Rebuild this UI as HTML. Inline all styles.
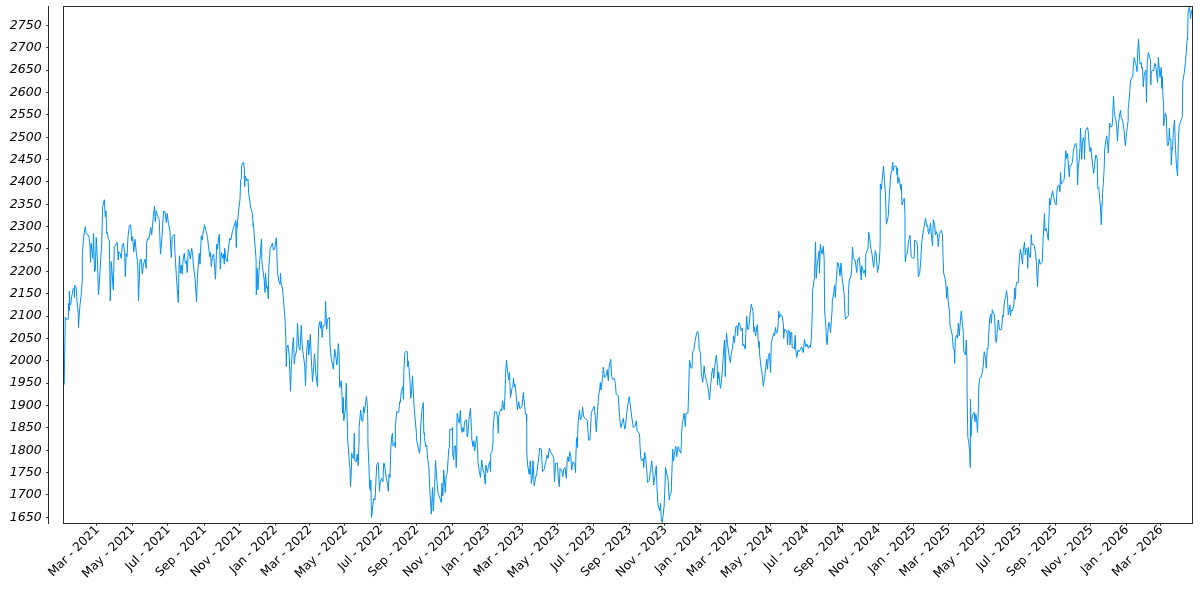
<!DOCTYPE html>
<html lang="en"><head><meta charset="utf-8"><title>Chart</title>
<style>
html,body{margin:0;padding:0;background:#fff;}
body{width:1200px;height:600px;overflow:hidden;}
svg{display:block;}
.yl{font:italic 12.5px "DejaVu Sans","Liberation Sans",sans-serif;fill:#000;text-anchor:end;}
.xl{font:12.2px "DejaVu Sans","Liberation Sans",sans-serif;fill:#000;text-anchor:end;}
</style></head>
<body>
<svg width="1200" height="600" viewBox="0 0 1200 600">
<rect x="0" y="0" width="1200" height="600" fill="#ffffff"/>
<path d="M64.2,384.5 L65.3,317 L66.2,319.2 L68.3,319.2 L68.6,303.3 L69.2,310.8 L69.4,291.2 L69.8,305 L70.7,305 L71.7,296.7 L73.3,288.3 L74.2,289.2 L74.4,297.5 L74.7,285.4 L76.2,287.5 L76.7,296.7 L77.5,307.5 L78.2,312.5 L78.5,327.5 L79.2,315 L80,305 L81.2,295 L82.3,280 L82.3,255.6 L82.5,251.7 L83.8,235.8 L85.3,226.7 L86.2,233.3 L87.5,234.2 L89.2,237.5 L90,245 L90.5,262.5 L91,243.3 L92,250 L92.8,258.3 L93.5,233.3 L94.5,271.7 L95.3,270.8 L96.2,237.5 L97.3,256.7 L98.5,294.7 L100,271.7 L101.7,243.3 L102.7,206.7 L104.3,199.7 L105.3,216.7 L106,210.8 L106.7,233.3 L107.3,232.5 L108.3,239.2 L109.3,240 L110.3,300.8 L111.3,261.7 L113.3,290 L114.3,246.7 L115.8,245 L117.2,242.5 L118.3,260 L118.7,251.7 L120,253.3 L121.3,258.3 L122.3,245 L123.5,243.3 L124.7,252.5 L125.3,276.7 L126.2,253.3 L127,256.7 L128,236.7 L129.3,225.8 L130.7,224.7 L131.7,240.8 L132.7,236.7 L133.8,251.7 L135,239.2 L136.3,252.5 L137.5,261.7 L137.8,266.7 L138.5,300.8 L140,260 L141.3,259.2 L142.3,274.2 L143.3,265 L145,259.2 L146.2,268.3 L146.5,243.3 L147.8,238.3 L148.8,239.2 L150.8,227.5 L151.7,235 L153.3,216.7 L154.5,206.3 L155.3,221.7 L156.2,210.8 L157.5,215.8 L159.2,219.2 L160.5,254.2 L162,236.7 L163.5,211.3 L165,211.7 L166.3,222.5 L167.2,213.3 L168.3,222.5 L170,231.7 L171.3,257.5 L172.2,236.7 L174.2,234.5 L175,253.3 L176.7,281.7 L178.3,302.5 L179,266.7 L179.5,255.8 L180.3,273.3 L181.2,265 L182.2,274.2 L183,260.8 L184.3,253.3 L185.3,263.3 L186.3,260.8 L187.3,272.5 L188.3,249.2 L189.3,252.5 L190.3,259.2 L191.7,248.3 L192.7,255 L193.3,265 L195,278.3 L196.5,301.7 L197.5,275 L199.2,253.3 L200,264.2 L201.3,235.8 L202,240 L204.5,224.7 L205.8,230 L207.5,237.5 L209.7,256.7 L210.5,252.5 L211.3,266.7 L212.7,255 L213.7,254.2 L215.5,279.2 L216.7,244.2 L217.5,249.2 L218.3,240 L219.3,234.2 L220.3,269.2 L221.3,252.5 L222.5,258.3 L223.3,254.2 L224.3,264.2 L224.7,248.3 L225.8,259.2 L227.2,261.7 L228.3,250 L229.7,238.3 L230.8,240 L232.5,230.8 L235.8,220.3 L235.8,231.5 L236.3,247.5 L237,224.2 L237.2,222.5 L237.2,227.3 L238.3,213.3 L240,199.2 L240.7,180 L241.3,179.2 L241.7,165 L243.5,162 L244.3,168.3 L244.7,186.7 L245.3,176.3 L247,180.8 L248,179.2 L248.7,193.3 L250.8,208.3 L252.2,212.5 L253.3,226.9 L253.4,223.4 L256.1,260.2 L256.2,285.7 L256.3,295 L257.2,268.3 L258,290 L259.7,260 L260.4,254.1 L260.4,250.8 L261.5,239.2 L261.7,245.5 L261.8,259.2 L262.5,266.7 L264.2,280 L265,292.5 L265.5,273.3 L266.7,288.3 L267.5,286.7 L268.3,298.7 L268.8,266.7 L269.9,254.5 L269.9,250.5 L270.3,248.3 L272.5,243.3 L273.3,250 L274.7,249.2 L276.3,237.8 L276.9,249.8 L276.9,256.1 L277.5,271.7 L278.7,280.8 L280,284.2 L280.5,273.3 L281.2,284.2 L282.5,288.3 L284.2,308.3 L285.2,322.4 L285.3,327.5 L285.8,336.7 L286.3,366.6 L286.8,348.3 L288,345 L289.2,355 L290.5,391.3 L291.3,366.7 L292.5,346.7 L293.5,337.5 L294.3,364.2 L295,356.7 L296.7,350 L297.5,323.3 L298.7,346.7 L300,350 L301.3,325.3 L302.2,345 L303.3,355 L304.7,365 L305.5,385.5 L306.7,350 L308,340 L308.8,355 L310.3,334.5 L311.3,358.3 L312.5,381.7 L313.7,366.7 L314.5,353.7 L315.8,373.3 L317.5,386.7 L318,350 L318.7,326.7 L319.7,321.7 L320.5,328.3 L321.3,321.3 L322.2,337.5 L323,325.8 L325,325 L325.5,301.3 L326.7,329.2 L327.5,319.2 L329.5,317.5 L330,345 L331.3,358.3 L333.3,369.2 L334.7,349.2 L337,365 L338.3,343.7 L339.2,355 L339.4,373.2 L339.7,387.5 L341.2,380.8 L342,395 L342.5,413.3 L343.3,397.5 L343.8,420.8 L345.3,410 L346.3,383.3 L347.2,420 L347.6,430.4 L347.6,439.8 L348,443.3 L349.5,465 L350,467.5 L350.5,486.7 L351.3,471.7 L351.8,453.3 L352.5,457.5 L353.7,458.3 L354.2,435 L354.4,433.3 L354.8,460.8 L356.3,461.7 L357.2,454.2 L358.3,465.5 L358.8,446.7 L359.1,442.9 L359.1,427.8 L360.7,410 L361.7,420 L362.7,421.7 L363.7,406.7 L364.3,412.5 L366.5,396.3 L367.5,408.3 L367.9,427 L367.9,442 L368.8,463.3 L369.7,488.3 L370.5,490.8 L370.8,480 L371.5,517.5 L373.7,498.3 L375,500 L376.7,465 L378.3,462.5 L379.5,491.3 L380,483.3 L381.7,478.3 L383,481.7 L383.6,463.3 L384.3,463.3 L386.3,478.3 L387.5,483.3 L388.3,491.3 L389,474.2 L390,477.5 L390.8,448.3 L391.7,436.7 L392.1,434.7 L392.2,435 L392.5,433.3 L393,445.8 L394.7,442.5 L395.3,447.5 L395.4,425.9 L396.7,411.7 L398.7,412.5 L399.7,401.7 L400.3,402.5 L401.3,391.7 L402.8,386.7 L403.5,399.2 L403.8,373.4 L404.8,352.5 L406.3,351.3 L407.3,351.7 L407.7,366.7 L408.3,360.8 L409.7,375.8 L410.8,398.3 L411.7,390 L412.5,375.8 L414.2,408.3 L416.4,433.1 L416.4,437.4 L416.7,440 L418.3,448.3 L419.5,453.3 L420.6,441 L420.6,428.3 L421.7,411.7 L423.3,402.5 L423.8,433.3 L424.4,432.7 L424.4,437.6 L425.8,446.7 L426.7,445 L427.5,457.5 L428.8,466.7 L430,493.3 L431.3,514.2 L432.5,487.5 L433.3,510.8 L434.7,485 L435.5,460.3 L436.7,478.3 L438,493.3 L440,498.3 L441.3,502.5 L442,483.3 L442.8,495.8 L443.7,470 L445.3,492.5 L446.2,475 L447.2,473.7 L448.8,448.3 L449.5,447.5 L449.7,440.5 L449.8,429.5 L451.7,429.5 L452.5,427.5 L452.8,455 L453.7,459.7 L454.2,446.7 L455.5,445.8 L456.2,467.5 L456.9,449.1 L456.9,421.9 L457.2,413.3 L458.3,420 L459.2,423.3 L460.3,410.3 L461.2,427.5 L462.2,432.5 L462.8,427.5 L463.8,431.7 L464.5,421.7 L466.3,419.7 L467.2,435.8 L467.2,434.3 L467.5,436.7 L467.7,434.2 L468,433.3 L469.2,416.7 L470.5,408.3 L471.3,426.7 L471.7,430.9 L471.8,438.9 L473,446.7 L473.8,440.8 L474.7,450.8 L476.7,435.8 L477.5,446.7 L478,462.5 L479.2,470.8 L480.5,477.5 L481.7,460 L483,470 L484.2,473.3 L485.3,484.2 L485.8,465 L487.5,472.5 L488.3,466.7 L489.7,461.7 L490.5,471.7 L490.8,453.4 L492,451.7 L493.1,441.2 L493.1,428.5 L494.5,411.7 L496.7,412 L497.5,419.2 L498.3,433.3 L498.7,416.7 L499.7,411.7 L500.8,409.2 L501.7,410.8 L502.5,400.8 L504.2,410 L505,395 L505.5,373.3 L506.5,360.3 L507.5,370.8 L508.7,380 L509.5,372.5 L510.5,397.5 L512,388.3 L512.8,387.5 L513.5,378.3 L514.2,386.7 L515,384.2 L516.3,396.7 L517.5,410 L518.7,401.7 L519.7,408.3 L520,408.1 L520,408.3 L522,406.7 L523,396 L523,397 L523.3,392.5 L524.7,406.7 L525.5,414.2 L526.5,414.2 L526.6,421.3 L526.7,414.2 L526.8,452.3 L527.5,464.2 L529.2,474.2 L529.4,469.3 L530,474.2 L530,460.8 L530.5,461.7 L531.3,483.3 L532.2,478.3 L533,460.8 L534.2,485.8 L535.3,479.2 L536.7,473.3 L538.3,461.7 L539.7,448 L541.3,449.2 L542.5,471.7 L544.2,469.2 L545.8,461.7 L547,455 L548,458.3 L549.3,448.3 L550.8,452.5 L552.5,455 L553.8,458.3 L554.5,481.7 L555.5,463.3 L557.5,463.3 L558.3,478.3 L559.3,486.7 L560,468.3 L561.7,470 L562.8,476.7 L563.7,469.2 L565,467.5 L566.3,478.3 L567.2,460 L568,456.7 L568.8,461.7 L569.7,451.7 L570.8,456.7 L571.7,470 L573,461.7 L574.7,464.2 L575.5,472.5 L576,451.7 L576.4,442.7 L576.5,437.8 L576.8,441.3 L576.9,439 L577.5,447.5 L577.6,434.6 L578.3,420 L579.5,410.3 L580.3,420 L581.7,417.5 L582.5,406.7 L583.7,416.7 L585.3,418.3 L587.2,420.8 L588.6,440.2 L589.5,439.8 L589.6,440.2 L590,440 L591.3,413.3 L592.7,409.2 L594.2,406.3 L595.5,419.2 L596.3,431.7 L597.5,411.7 L598.7,395 L599.7,390 L600.3,382.5 L601,390 L602.5,378.3 L603.3,367.2 L604.5,377.5 L606.3,375 L607.2,369.7 L608.3,380.8 L609.2,366.7 L610.7,359.2 L611.7,376.7 L612.8,379.2 L614.2,378.3 L615.3,383.3 L616.2,394.2 L618.3,395.8 L619.5,416.7 L620.8,427.5 L623.3,418.3 L624.7,429.2 L625.5,425.8 L626.7,413.3 L628.3,401.7 L629.3,396.7 L631.7,416.7 L633.3,427.5 L635.3,425.8 L636.3,420.8 L637.2,430.8 L639.2,433.3 L639.8,438.3 L639.8,442.1 L640.8,458.3 L641.7,460.8 L643.3,458.3 L643.7,467.5 L644.7,452.5 L645.8,459.2 L646.7,469.2 L647.5,482.5 L649.2,480.8 L651.7,460.8 L652.5,468.3 L653.7,485 L656.3,465.8 L657,488.3 L658,505 L659.7,510.8 L660.5,503.3 L661.3,520 L662.2,522.5 L663,516.7 L664.2,505 L665,485 L665.5,467.5 L666.7,473.3 L668,479.2 L669.3,500 L670,494.2 L671.2,492.5 L672.7,449.2 L673.5,460.8 L674.7,451.7 L675.8,446.3 L676.7,456.7 L678,446.7 L680.8,453.3 L681.4,444.8 L681.4,435.8 L682.5,421.7 L684.2,413.3 L685.3,426.7 L686,413.3 L688,413 L689.5,360 L690,363.6 L690,363.3 L690.8,367.5 L692,368.3 L692.5,351.7 L693.7,350.8 L695,341.7 L696.7,332.5 L697.8,331.3 L698.7,335.8 L699.2,349.2 L700.5,353.3 L701.3,373.3 L701.6,375.2 L701.6,374.8 L702.7,382.5 L704.2,365.8 L704.7,373.3 L705.2,374.1 L705.2,376 L706.7,381.7 L708.3,389.2 L709.5,399.7 L710.8,383.3 L711.6,376.4 L711.7,373.3 L712.8,368.3 L713.7,378.3 L714.7,366.7 L716.3,355.3 L717.2,363.3 L717.4,369.1 L717.5,385 L718.2,372.4 L718.2,378.3 L718.7,372.5 L720,385 L720,384.7 L720.5,388.3 L721.7,378.3 L722.8,363.3 L723.7,350 L724.5,340 L725.3,376.7 L725.8,350 L726.5,333.3 L727.5,343.3 L728.7,353.3 L730.3,362.5 L731.3,353.3 L732.5,348.3 L733.7,335.8 L734.5,342.5 L735.8,326.7 L737.2,325.8 L737.5,335.8 L738.7,322.5 L740,325 L741.3,330.8 L742.3,328.3 L742.8,345.8 L743.8,344.2 L745.3,349.2 L745.8,333.3 L746.7,316.3 L747.5,329.2 L748.7,329.2 L749.7,316.7 L751.3,304.2 L753,311.7 L753.8,331.7 L754.5,326.7 L755.5,335.8 L757.3,324.7 L758,336.7 L758.8,347.5 L759.2,341.7 L759.7,355 L760.8,365 L762,373.3 L763.3,386.3 L764.7,376.7 L766.7,359.2 L767.5,369.2 L768.3,356.7 L769.5,353.3 L770.5,372.5 L771.3,343.3 L772.5,337.5 L773.7,333.3 L774.5,335.8 L775.5,327.5 L776.3,333.3 L777.5,331.7 L778.3,321.7 L778.7,311.3 L779.5,317.5 L780.8,314.2 L782,315.8 L783.3,323.3 L783.7,338.3 L784.5,329.2 L785.8,330 L787.2,333.3 L787.5,344.7 L788.3,329.7 L789.7,331.7 L790,345 L790.8,332.5 L791.7,332.5 L792.2,347.5 L793.3,347.5 L794.3,349.2 L795.2,335.3 L795.7,348.3 L796.7,357.5 L798,350 L799.2,351.7 L801.7,346.7 L803.3,352.5 L804.5,339.5 L805.8,346.7 L807,344.2 L808.3,348.3 L809.7,345 L810.3,347.5 L811.2,340.8 L812,320 L812.3,311 L812.5,291.7 L814.5,276.7 L815.5,242 L816.2,278.3 L817.2,265 L819.2,250.9 L819.5,273.3 L820.3,244.2 L821.3,250.8 L822.2,254.2 L823.3,246.3 L824.2,260 L824.6,307.9 L825,316.7 L825.8,325 L826.5,340 L827.2,344.7 L827.8,333.3 L828.8,322.5 L829.7,325 L830.5,332.5 L832.2,308.8 L832.3,301.2 L833.7,293.3 L834.5,285.3 L835.3,297.5 L836.3,280 L837.5,262.5 L838.3,263.3 L839.5,270 L840,275.8 L841,263 L842,276.7 L844.2,295 L844.5,301.9 L844.7,310 L845.5,319.2 L848.3,315.8 L848.4,295.3 L849.2,280 L850.9,276.5 L851.7,268.3 L852.5,247.2 L853.3,258.3 L855,260 L855.8,265 L856.7,272.5 L857.5,260 L859.2,257.5 L861.3,280 L861.7,265.8 L863.8,273.3 L865,270 L865.5,276.7 L865.8,254.2 L868,248.3 L868.7,232.2 L870,240 L870.8,248.3 L872,254.2 L873,263.3 L873.7,267.5 L874.5,258.3 L875.3,250.8 L876.3,255 L877.5,272.5 L879.2,263.3 L880,248.3 L880.2,239.7 L880.3,184.2 L881.3,189.2 L883.5,166.3 L884.5,181.7 L885.5,194.2 L886.3,224.2 L887.5,220 L888.3,215.8 L889.5,191.7 L890.8,175 L891.7,170.8 L892.7,162.2 L893.3,170.8 L894.3,166.3 L896.3,166.3 L897,175 L897.5,168.3 L897.8,183.3 L898.7,177.5 L899.7,181.7 L900.7,189.2 L901.3,184.2 L902,205 L903,201.7 L904.3,198.3 L905,215.3 L905,245.8 L905.3,261.7 L906.2,254.2 L907.5,253.3 L908.3,242.5 L910,235.3 L911.2,256.7 L912.5,258.3 L914.2,257.5 L914.7,240 L916.7,241.7 L917.5,246.7 L918.3,276.7 L919.7,273.3 L920.8,260 L921.7,242.5 L923.5,230 L923.5,230.2 L924.2,226.7 L925.5,218.3 L926.7,225.8 L927.5,225 L928,228.6 L928,231.2 L928.8,234.2 L929.4,229.4 L929.4,230.9 L929.7,230 L930.5,223.3 L931,228.3 L931,231.2 L932.5,245.8 L933.3,219.7 L934.7,225 L935.5,235 L936.3,231.7 L937.5,235 L938.3,246.7 L939.2,234.2 L940.3,232.5 L941.4,230.4 L942.5,235 L943,256.7 L943.7,273.3 L945,278.3 L945.8,283.3 L946.7,298.3 L946.9,296.9 L947.2,286.7 L947.9,293.5 L947.9,296.5 L948.3,301.7 L949.7,315 L950,325.8 L950.8,328.3 L952.2,335 L953.3,348.3 L954.2,350 L954.7,363.3 L955.3,338.3 L956.7,335 L957.5,338.3 L958.3,323.3 L959.3,335.8 L960.3,321.7 L961.3,311.2 L962.5,325 L963.3,331.7 L963.8,351.7 L965.5,355 L966.3,340 L967,362.1 L967,386.7 L967.8,436.6 L968.8,443.3 L969.7,451.7 L970.3,467.5 L970.5,399.2 L971,436.7 L971.7,420 L973,414.2 L974.2,412.5 L975,421.7 L975.8,414.2 L976.7,420 L977.5,432.5 L978.3,410 L978.8,386.7 L979.7,378.3 L980.8,377.5 L981.6,375.9 L981.7,374.1 L982.5,371.7 L983.3,365 L984.2,351.7 L985.5,358.3 L986.3,368.3 L987.2,348.3 L988,349.2 L988.7,335 L989.7,318.3 L990.8,314.2 L991.3,323.3 L992.3,309.7 L993.3,313.3 L994.5,315 L995.5,338.3 L996.3,342.5 L997.5,328.3 L998.3,320 L999.7,330 L1001.7,329.2 L1002.5,315 L1003.3,316.7 L1004.5,300.8 L1005.5,298.3 L1006.5,290.5 L1007.5,298.3 L1008.3,315 L1010,305 L1010.5,315.8 L1011.3,310 L1012.5,310.8 L1013.8,305 L1014.7,288.3 L1014.9,288.2 L1014.9,292.1 L1015.3,299.2 L1015.8,292.6 L1015.8,287.5 L1016.7,282.5 L1018.3,282.5 L1018.8,266.7 L1019.7,255 L1020.5,249.2 L1022.5,264.2 L1023.3,250 L1024.5,242.5 L1025.3,255 L1026.3,248.3 L1027.2,250 L1027.7,268.3 L1028.3,247.5 L1029.5,256.7 L1030.5,257.5 L1031.3,234.5 L1032,245 L1033,244.2 L1034.2,245.8 L1035.5,251.7 L1036.3,261.7 L1037.5,286.7 L1038.3,266.7 L1039.2,259.2 L1040,264.2 L1041.3,263.3 L1042.2,262.5 L1043,241.7 L1044.5,213.3 L1045,230.8 L1046.2,228.3 L1047.2,233.3 L1048.3,240.3 L1048.8,221.7 L1049.3,210.3 L1049.5,198.3 L1050.3,205 L1051.3,197.5 L1052.5,190.8 L1055,203.3 L1056.2,205 L1057,190 L1057.8,185.8 L1059.2,185 L1060,191.7 L1060.5,172.5 L1061.2,184.2 L1062.5,181.7 L1064.2,179.2 L1065,165 L1065.7,150.8 L1066.7,158.3 L1067.5,153.3 L1069.3,176.7 L1070,165.8 L1071.3,165 L1072.5,161.7 L1073.3,151.7 L1074.7,145 L1075.8,143.3 L1076.7,147.5 L1077.2,163.4 L1077.5,185 L1078.3,166.7 L1079.2,160 L1080,148.3 L1080.5,128 L1081.7,159.2 L1082.5,143.3 L1083.3,137.5 L1084.2,141.7 L1084.5,159.2 L1085.3,131.7 L1086.3,129.2 L1087.5,127.5 L1088.3,131.7 L1089.2,145.8 L1090,151.7 L1090.8,147.5 L1092.8,166.7 L1093.7,173.3 L1095.8,155 L1097.2,158.3 L1097.8,188.3 L1098.8,187.5 L1099.7,198.3 L1100.3,205 L1101.3,224.7 L1102,205 L1102.1,204.4 L1102.2,205 L1102.5,193.3 L1103.3,183.3 L1104.2,168.3 L1104.7,150 L1105.8,140.8 L1106.7,135.8 L1107.8,145.8 L1108.3,153 L1109.7,123.3 L1110.5,126.7 L1112,126.7 L1112.8,116.7 L1112.8,112.9 L1113.5,96.2 L1114.3,111.7 L1114.7,113.9 L1114.7,116.1 L1115,116.7 L1115.8,120 L1116.7,126.7 L1117.5,140.8 L1118.3,125.8 L1119.5,114.5 L1119.6,115.3 L1120.5,110 L1120.9,113.2 L1121,116.9 L1122.5,120 L1124.2,131.7 L1125.3,145.8 L1126.3,135 L1128.2,120.3 L1128.2,109.5 L1129.7,93.3 L1130.5,80.8 L1131.7,77.5 L1132.8,76.7 L1133.3,65 L1134.3,57.5 L1135.3,63.3 L1136.3,65.8 L1137,71.7 L1137.7,51.7 L1138.5,39.2 L1140,64.2 L1141.2,62.5 L1141.7,68.3 L1142.5,67.5 L1143.3,86.7 L1144.2,75 L1145.8,70 L1146.5,102.5 L1147.2,63.3 L1148.3,52.5 L1149.5,56.7 L1150.5,60.8 L1150.8,85 L1151.3,71.7 L1152.8,70 L1153.7,70.8 L1154.7,63.3 L1155.5,64.2 L1156.3,70 L1157.5,82.5 L1158.3,57.5 L1160,77.5 L1161.2,67.5 L1161.7,88.3 L1162.3,76.7 L1163,96.7 L1163.7,107.1 L1163.7,123.4 L1163.8,125.8 L1164.7,117.5 L1165.3,113.3 L1165.6,115.5 L1165.7,114.4 L1166.3,116.7 L1167.2,143.3 L1168,145.8 L1168.8,141.7 L1169.3,128.3 L1170,140 L1170.8,139.2 L1171.3,165 L1172,147.5 L1172.5,150 L1173.3,131.7 L1174.5,120 L1175.5,148.3 L1176.3,163.3 L1177.5,175.8 L1178.3,143.3 L1179.2,125.8 L1181.7,118.3 L1182.3,117.4 L1182.8,81.7 L1184.2,73.3 L1185.3,63.3 L1186.3,51.7 L1187,40.8 L1187.5,38.1 L1187.6,40 L1188,12 L1189.5,6.5 L1190.5,18.5 L1191.5,10.5 L1191.8,13.5" fill="none" stroke="#0590f0" stroke-width="1" stroke-linejoin="round" stroke-linecap="butt"/>
<rect x="63.5" y="6.5" width="1129.0" height="517.0" fill="none" stroke="#2a2a2a" stroke-width="1"/>
<line x1="48.5" y1="6.0" x2="48.5" y2="524.0" stroke="#2a2a2a" stroke-width="1"/>
<g stroke="#2a2a2a" stroke-width="1">
<line x1="46.3" y1="517.5" x2="48.5" y2="517.5"/>
<line x1="46.3" y1="494.5" x2="48.5" y2="494.5"/>
<line x1="46.3" y1="472.5" x2="48.5" y2="472.5"/>
<line x1="46.3" y1="450.5" x2="48.5" y2="450.5"/>
<line x1="46.3" y1="427.5" x2="48.5" y2="427.5"/>
<line x1="46.3" y1="405.5" x2="48.5" y2="405.5"/>
<line x1="46.3" y1="383.5" x2="48.5" y2="383.5"/>
<line x1="46.3" y1="360.5" x2="48.5" y2="360.5"/>
<line x1="46.3" y1="338.5" x2="48.5" y2="338.5"/>
<line x1="46.3" y1="316.5" x2="48.5" y2="316.5"/>
<line x1="46.3" y1="293.5" x2="48.5" y2="293.5"/>
<line x1="46.3" y1="271.5" x2="48.5" y2="271.5"/>
<line x1="46.3" y1="248.5" x2="48.5" y2="248.5"/>
<line x1="46.3" y1="226.5" x2="48.5" y2="226.5"/>
<line x1="46.3" y1="204.5" x2="48.5" y2="204.5"/>
<line x1="46.3" y1="181.5" x2="48.5" y2="181.5"/>
<line x1="46.3" y1="159.5" x2="48.5" y2="159.5"/>
<line x1="46.3" y1="137.5" x2="48.5" y2="137.5"/>
<line x1="46.3" y1="114.5" x2="48.5" y2="114.5"/>
<line x1="46.3" y1="92.5" x2="48.5" y2="92.5"/>
<line x1="46.3" y1="70.5" x2="48.5" y2="70.5"/>
<line x1="46.3" y1="47.5" x2="48.5" y2="47.5"/>
<line x1="46.3" y1="25.5" x2="48.5" y2="25.5"/>
<line x1="96.5" y1="523.5" x2="96.5" y2="525.7"/>
<line x1="132.5" y1="523.5" x2="132.5" y2="525.7"/>
<line x1="167.5" y1="523.5" x2="167.5" y2="525.7"/>
<line x1="204.5" y1="523.5" x2="204.5" y2="525.7"/>
<line x1="239.5" y1="523.5" x2="239.5" y2="525.7"/>
<line x1="275.5" y1="523.5" x2="275.5" y2="525.7"/>
<line x1="309.5" y1="523.5" x2="309.5" y2="525.7"/>
<line x1="344.5" y1="523.5" x2="344.5" y2="525.7"/>
<line x1="380.5" y1="523.5" x2="380.5" y2="525.7"/>
<line x1="416.5" y1="523.5" x2="416.5" y2="525.7"/>
<line x1="452.5" y1="523.5" x2="452.5" y2="525.7"/>
<line x1="487.5" y1="523.5" x2="487.5" y2="525.7"/>
<line x1="522.5" y1="523.5" x2="522.5" y2="525.7"/>
<line x1="557.5" y1="523.5" x2="557.5" y2="525.7"/>
<line x1="593.5" y1="523.5" x2="593.5" y2="525.7"/>
<line x1="629.5" y1="523.5" x2="629.5" y2="525.7"/>
<line x1="664.5" y1="523.5" x2="664.5" y2="525.7"/>
<line x1="700.5" y1="523.5" x2="700.5" y2="525.7"/>
<line x1="735.5" y1="523.5" x2="735.5" y2="525.7"/>
<line x1="770.5" y1="523.5" x2="770.5" y2="525.7"/>
<line x1="806.5" y1="523.5" x2="806.5" y2="525.7"/>
<line x1="842.5" y1="523.5" x2="842.5" y2="525.7"/>
<line x1="878.5" y1="523.5" x2="878.5" y2="525.7"/>
<line x1="913.5" y1="523.5" x2="913.5" y2="525.7"/>
<line x1="948.5" y1="523.5" x2="948.5" y2="525.7"/>
<line x1="983.5" y1="523.5" x2="983.5" y2="525.7"/>
<line x1="1019.5" y1="523.5" x2="1019.5" y2="525.7"/>
<line x1="1055.5" y1="523.5" x2="1055.5" y2="525.7"/>
<line x1="1090.5" y1="523.5" x2="1090.5" y2="525.7"/>
<line x1="1126.5" y1="523.5" x2="1126.5" y2="525.7"/>
<line x1="1160.5" y1="523.5" x2="1160.5" y2="525.7"/>
</g>
<g class="yl">
<text x="41.6" y="520.6">1650</text>
<text x="41.6" y="498.2">1700</text>
<text x="41.6" y="475.9">1750</text>
<text x="41.6" y="453.5">1800</text>
<text x="41.6" y="431.2">1850</text>
<text x="41.6" y="408.8">1900</text>
<text x="41.6" y="386.4">1950</text>
<text x="41.6" y="364.1">2000</text>
<text x="41.6" y="341.7">2050</text>
<text x="41.6" y="319.4">2100</text>
<text x="41.6" y="297.0">2150</text>
<text x="41.6" y="274.6">2200</text>
<text x="41.6" y="252.3">2250</text>
<text x="41.6" y="229.9">2300</text>
<text x="41.6" y="207.6">2350</text>
<text x="41.6" y="185.2">2400</text>
<text x="41.6" y="162.9">2450</text>
<text x="41.6" y="140.5">2500</text>
<text x="41.6" y="118.1">2550</text>
<text x="41.6" y="95.8">2600</text>
<text x="41.6" y="73.4">2650</text>
<text x="41.6" y="51.1">2700</text>
<text x="41.6" y="28.7">2750</text>
</g>
<g class="xl">
<text transform="translate(99.7,530.2) rotate(-45)" x="0" y="0">Mar - 2021</text>
<text transform="translate(135.2,530.2) rotate(-45)" x="0" y="0">May - 2021</text>
<text transform="translate(170.8,530.2) rotate(-45)" x="0" y="0">Jul - 2021</text>
<text transform="translate(206.9,530.2) rotate(-45)" x="0" y="0">Sep - 2021</text>
<text transform="translate(242.5,530.2) rotate(-45)" x="0" y="0">Nov - 2021</text>
<text transform="translate(278.0,530.2) rotate(-45)" x="0" y="0">Jan - 2022</text>
<text transform="translate(312.4,530.2) rotate(-45)" x="0" y="0">Mar - 2022</text>
<text transform="translate(347.9,530.2) rotate(-45)" x="0" y="0">May - 2022</text>
<text transform="translate(383.4,530.2) rotate(-45)" x="0" y="0">Jul - 2022</text>
<text transform="translate(419.6,530.2) rotate(-45)" x="0" y="0">Sep - 2022</text>
<text transform="translate(455.1,530.2) rotate(-45)" x="0" y="0">Nov - 2022</text>
<text transform="translate(490.6,530.2) rotate(-45)" x="0" y="0">Jan - 2023</text>
<text transform="translate(525.0,530.2) rotate(-45)" x="0" y="0">Mar - 2023</text>
<text transform="translate(560.6,530.2) rotate(-45)" x="0" y="0">May - 2023</text>
<text transform="translate(596.1,530.2) rotate(-45)" x="0" y="0">Jul - 2023</text>
<text transform="translate(632.2,530.2) rotate(-45)" x="0" y="0">Sep - 2023</text>
<text transform="translate(667.8,530.2) rotate(-45)" x="0" y="0">Nov - 2023</text>
<text transform="translate(703.3,530.2) rotate(-45)" x="0" y="0">Jan - 2024</text>
<text transform="translate(738.3,530.2) rotate(-45)" x="0" y="0">Mar - 2024</text>
<text transform="translate(773.8,530.2) rotate(-45)" x="0" y="0">May - 2024</text>
<text transform="translate(809.4,530.2) rotate(-45)" x="0" y="0">Jul - 2024</text>
<text transform="translate(845.5,530.2) rotate(-45)" x="0" y="0">Sep - 2024</text>
<text transform="translate(881.0,530.2) rotate(-45)" x="0" y="0">Nov - 2024</text>
<text transform="translate(916.6,530.2) rotate(-45)" x="0" y="0">Jan - 2025</text>
<text transform="translate(950.9,530.2) rotate(-45)" x="0" y="0">Mar - 2025</text>
<text transform="translate(986.5,530.2) rotate(-45)" x="0" y="0">May - 2025</text>
<text transform="translate(1022.0,530.2) rotate(-45)" x="0" y="0">Jul - 2025</text>
<text transform="translate(1058.1,530.2) rotate(-45)" x="0" y="0">Sep - 2025</text>
<text transform="translate(1093.7,530.2) rotate(-45)" x="0" y="0">Nov - 2025</text>
<text transform="translate(1129.2,530.2) rotate(-45)" x="0" y="0">Jan - 2026</text>
<text transform="translate(1163.6,530.2) rotate(-45)" x="0" y="0">Mar - 2026</text>
</g>
</svg>
</body></html>
